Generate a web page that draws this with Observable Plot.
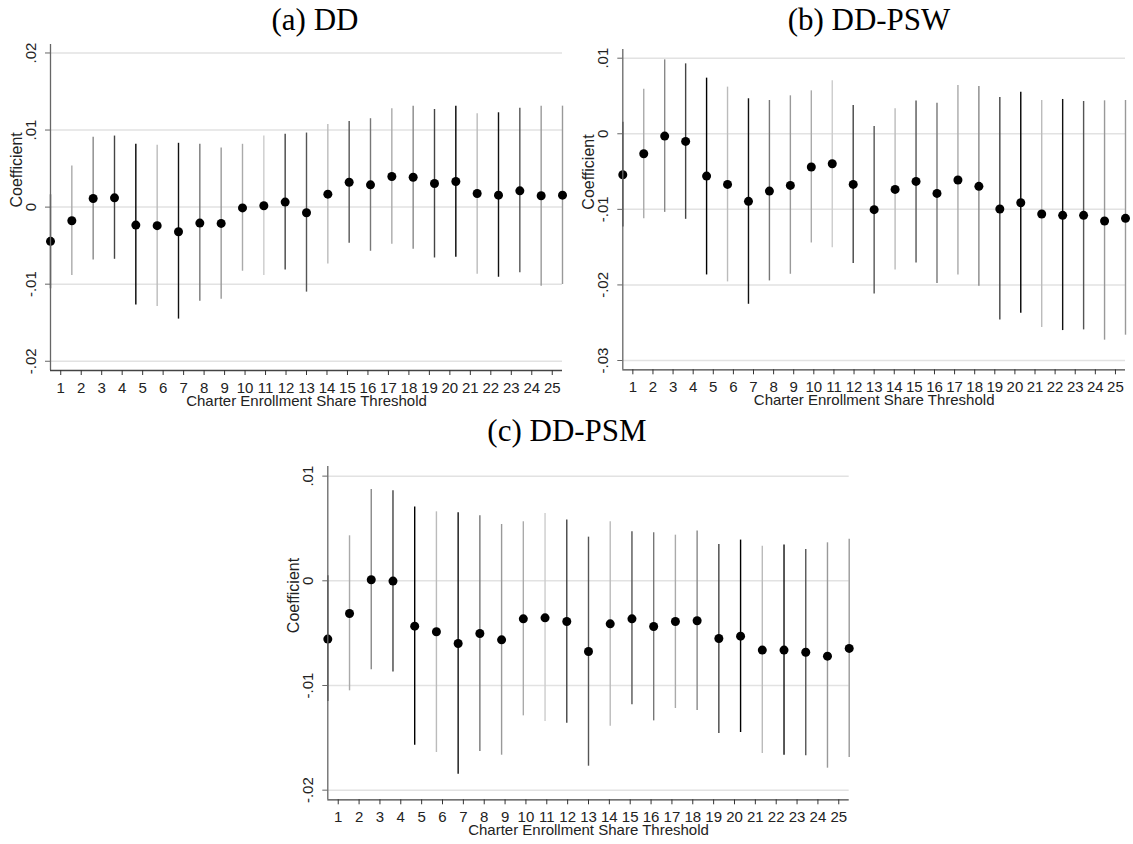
<!DOCTYPE html>
<html><head><meta charset="utf-8">
<script src="https://cdn.jsdelivr.net/npm/d3@7"></script>
<script src="https://cdn.jsdelivr.net/npm/@observablehq/plot@0.6"></script>
<style>
html,body{margin:0;padding:0;background:#fff;}
#wrap{position:relative;width:1133px;height:844px;overflow:hidden;background:#fff;}
.title{position:absolute;font-family:"Liberation Serif","Times New Roman",serif;font-size:31px;line-height:31px;white-space:nowrap;transform:translateX(-50%);color:#000;}
.panel{position:absolute;}
</style></head><body><div id="wrap"></div>
<script>
// Tick labels / categories
const thresholds = [1,2,3,4,5,6,7,8,9,10,11,12,13,14,15,16,17,18,19,20,21,22,23,24,25];
// Shade of each confidence interval (same in every panel)
const shades = ["#333","#aaa","#888","#444","#000","#bbb","#111","#777","#999","#aaa","#ccc","#444","#555","#bbb","#555","#777","#aaa","#888","#444","#000","#bbb","#111","#555","#999","#999"];

// (a) DD
const ddCoef = [-0.00444,-0.00177,0.00112,0.0012,-0.00233,-0.00241,-0.00319,-0.00207,-0.00211,-0.0001,0.00017,0.00065,-0.00073,0.00168,0.00323,0.00289,0.00397,0.00388,0.00306,0.00332,0.00177,0.00155,0.00211,0.00147,0.00155];
const ddHi = [0.0016,0.00534,0.00905,0.00922,0.00815,0.00802,0.00828,0.00815,0.00767,0.00815,0.00922,0.00944,0.00961,0.01073,0.01112,0.01147,0.01276,0.0131,0.01267,0.0131,0.01211,0.01224,0.01284,0.0131,0.0131];
const ddLo = [-0.0106,-0.00888,-0.00685,-0.00677,-0.0127,-0.0129,-0.01453,-0.0122,-0.01194,-0.00832,-0.00888,-0.00815,-0.01103,-0.00737,-0.0047,-0.00573,-0.00483,-0.00547,-0.0066,-0.00651,-0.00871,-0.0091,-0.00853,-0.01026,-0.01004];
const ddYTicks = [-0.02,-0.01,0,0.01,0.02];

// (b) DD-PSW
const pswCoef = [-0.00542,-0.00264,-0.00031,-0.00101,-0.0056,-0.0067,-0.00894,-0.00758,-0.00683,-0.0044,-0.00396,-0.0067,-0.01004,-0.00736,-0.0063,-0.00789,-0.00612,-0.00696,-0.00996,-0.00912,-0.01062,-0.01079,-0.01079,-0.01154,-0.01119];
const pswHi = [0.00154,0.0059,0.00978,0.00925,0.00736,0.00617,0.00463,0.0044,0.00502,0.00568,0.007,0.00374,0.00097,0.0033,0.00432,0.00405,0.00639,0.00626,0.0048,0.00551,0.0044,0.00454,0.00427,0.00436,0.0044];
const pswLo = [-0.01233,-0.01123,-0.0104,-0.01132,-0.01868,-0.0196,-0.02256,-0.01947,-0.01859,-0.01445,-0.01507,-0.01718,-0.02119,-0.01802,-0.01709,-0.01982,-0.01868,-0.02018,-0.02463,-0.02374,-0.02564,-0.02604,-0.02595,-0.02731,-0.02665];
const pswYTicks = [-0.03,-0.02,-0.01,0,0.01];

// (c) DD-PSM
const psmCoef = [-0.00557,-0.00312,0.0001,-0.00003,-0.00433,-0.00487,-0.00599,-0.00503,-0.00564,-0.00363,-0.00354,-0.00389,-0.00675,-0.00411,-0.00363,-0.00436,-0.00389,-0.00382,-0.00551,-0.00529,-0.00662,-0.00662,-0.00682,-0.0072,-0.00646];
const psmHi = [0.00048,0.0043,0.00873,0.0086,0.00704,0.00659,0.0065,0.00621,0.00538,0.00564,0.00643,0.0058,0.00417,0.00564,0.00468,0.00459,0.00436,0.00475,0.00347,0.00389,0.00331,0.00341,0.00299,0.00363,0.00398];
const psmLo = [-0.01153,-0.01051,-0.0085,-0.0087,-0.0157,-0.0164,-0.01847,-0.0163,-0.01666,-0.0129,-0.01344,-0.0136,-0.01771,-0.01389,-0.01185,-0.01338,-0.0122,-0.01239,-0.01459,-0.01449,-0.0165,-0.01666,-0.01672,-0.0179,-0.01688];
const psmYTicks = [-0.02,-0.01,0,0.01];

const titles = ["(a) DD", "(b) DD-PSW", "(c) DD-PSM"];
const xTitle = "Charter Enrollment Share Threshold";
const yTitle = "Coefficient";

const n = thresholds.length;
const fmt = d => d === 0 ? "0" : (d < 0 ? "-" : "") + String(Math.abs(d)).replace(/^0/, "");

function makePanel(coef, lo, hi, yTicks, yDomain, box) {
  const rows = thresholds.map((k, i) => ({
    pos: 0.5 + i * n / (n - 1),
    coef: coef[i], lo: lo[i], hi: hi[i], shade: shades[i]
  }));
  const svg = Plot.plot({
    width: box.width, height: box.height,
    marginLeft: box.mL, marginRight: box.mR, marginTop: box.mT, marginBottom: box.mB,
    x: {domain: [0.5, n + 0.5]},
    y: {domain: yDomain},
    color: {type: "identity"},
    style: {fontFamily: "'Liberation Sans', Arial, sans-serif", fontSize: "15px", background: "white", color: "#222", overflow: "visible"},
    marks: [
      Plot.ruleY(yTicks, {stroke: "#e2e2e2", strokeWidth: 1.5}),
      Plot.ruleX(rows, {x: "pos", y1: "lo", y2: "hi", stroke: "shade", strokeWidth: 1.4}),
      Plot.dot(rows, {x: "pos", y: "coef", r: 4.5, fill: "#000", stroke: "none"}),
      Plot.ruleX([0.5], {stroke: "#666", strokeWidth: 1.3}),
      Plot.ruleY([yDomain[0]], {stroke: "#444", strokeWidth: 1.3}),
      Plot.axisX(thresholds, {tickSize: 5, tickPadding: 7, tickFormat: d => String(d), label: null, fontSize: 15, stroke: "#333"}),
      Plot.axisY(yTicks, {tickSize: 5, tickRotate: -90, tickPadding: 10, tickFormat: fmt, label: null, fontSize: 15, stroke: "#666"}),
      Plot.text([yTitle], {text: d => d, frameAnchor: "left", dx: -34, rotate: -90, fontSize: 16, fill: "#222"}),
      Plot.text([xTitle], {text: d => d, frameAnchor: "bottom", dy: 35, fontSize: 15, fill: "#222"})
    ]
  });
  svg.classList.add("panel");
  svg.style.left = box.left + "px";
  svg.style.top = box.top + "px";
  svg.style.maxWidth = "none";
  return svg;
}

const wrap = document.getElementById("wrap");
wrap.appendChild(makePanel(ddCoef, ddLo, ddHi, ddYTicks, [-0.0212, 0.0211],
  {left: 0, top: 0, width: 570, height: 420, mL: 50, mR: 8, mT: 44, mB: 50}));
wrap.appendChild(makePanel(pswCoef, pswLo, pswHi, pswYTicks, [-0.03123, 0.01115],
  {left: 575, top: 0, width: 558, height: 420, mL: 47.3, mR: 8, mT: 49, mB: 50.7}));
wrap.appendChild(makePanel(psmCoef, psmLo, psmHi, psmYTicks, [-0.02092, 0.01092],
  {left: 280, top: 410, width: 576, height: 434, mL: 47.3, mR: 7.3, mT: 56, mB: 44.7}));

const titlePos = [[315, 4], [869, 4], [567, 414.5]];
titles.forEach((t, i) => {
  const d = document.createElement("div");
  d.className = "title";
  d.textContent = t;
  d.style.left = titlePos[i][0] + "px";
  d.style.top = titlePos[i][1] + "px";
  wrap.appendChild(d);
});
</script></body></html>
